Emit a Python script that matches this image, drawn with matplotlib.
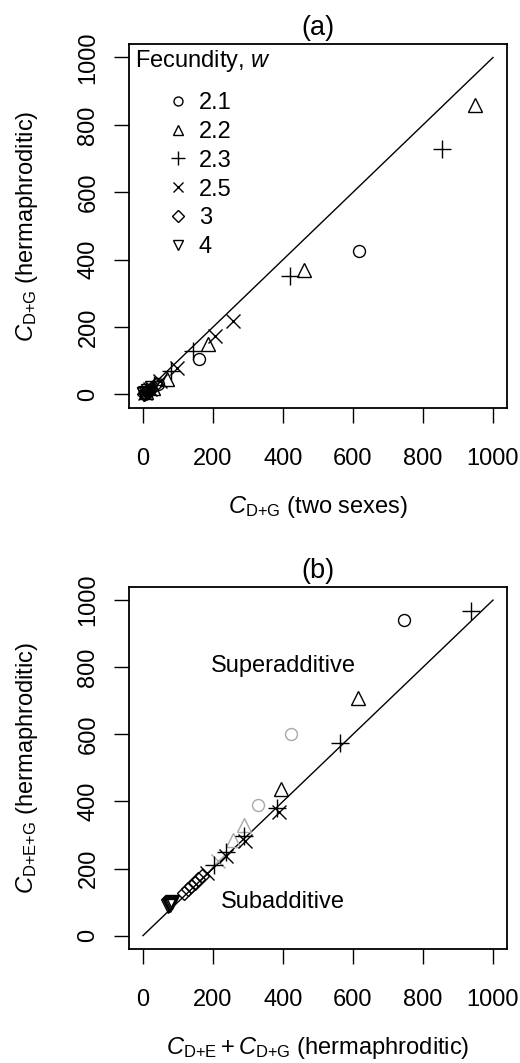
import numpy as np
import matplotlib
matplotlib.use("Agg")
import matplotlib.pyplot as plt
from matplotlib.lines import Line2D

plt.rcParams["font.family"] = ["Liberation Sans", "DejaVu Sans"]
plt.rcParams["mathtext.fontset"] = "custom"
plt.rcParams["mathtext.rm"] = "Liberation Sans"
plt.rcParams["mathtext.it"] = "Liberation Sans:italic"
plt.rcParams["mathtext.bf"] = "Liberation Sans:bold"

# fecundity levels and their R-style symbols
fecundity = ["2.1", "2.2", "2.3", "2.5", "3", "4"]
symbols = ["o", "^", "+", "x", "D", "v"]
sizes = [8.6, 10.0, 12.5, 10.0, 7.5, 10.0]

# panel (a): C_D+G two sexes (x) vs hermaphroditic (y)
a_x = {
    "2.1": [616, 161, 42, 18, 8],
    "2.2": [950, 461, 185, 68, 28, 10],
    "2.3": [854, 421, 143, 80, 32, 12],
    "2.5": [257, 207, 97, 48, 20, 7],
    "3": [36, 22, 12, 6, 3],
    "4": [26, 14, 8, 4, 2],
}
a_y = {
    "2.1": [426, 106, 30, 12, 5],
    "2.2": [860, 369, 151, 45, 20, 6],
    "2.3": [728, 353, 129, 70, 27, 9],
    "2.5": [218, 173, 79, 40, 16, 4],
    "3": [30, 16, 9, 4, 1],
    "4": [20, 10, 5, 2, 0],
}

# panel (b): C_D+E + C_D+G (x) vs C_D+E+G (y), black series
b_x = {
    "2.1": [745],
    "2.2": [613, 395],
    "2.3": [938, 564, 383, 289, 238, 202],
    "2.5": [388, 292, 238, 183],
    "3": [168, 158, 148, 138, 128, 118],
    "4": [84, 81, 78, 76, 73, 71],
}
b_y = {
    "2.1": [940],
    "2.2": [709, 436],
    "2.3": [966, 573, 379, 298, 248, 210],
    "2.5": [367, 283, 238, 188],
    "3": [178, 168, 158, 148, 138, 128],
    "4": [100, 97, 95, 92, 90, 87],
}
# panel (b), grey series
b_grey_x = {"2.1": [424, 330], "2.2": [290, 256], "2.5": [215]}
b_grey_y = {"2.1": [602, 390], "2.2": [330, 285], "2.5": [222]}

grey = "#a8a8a8"
ticks = [0, 200, 400, 600, 800, 1000]
fs = 17

fig = plt.figure(figsize=(5.2, 10.63), dpi=100)
ax_a = fig.add_axes([0.248, 0.6162, 0.727, 0.3424])
ax_b = fig.add_axes([0.248, 0.1072, 0.727, 0.3409])


def style_axes(ax, title):
    ax.set_xlim(-40, 1040)
    ax.set_ylim(-40, 1040)
    ax.set_xticks(ticks)
    ax.set_yticks(ticks)
    ax.set_xticklabels([str(t) for t in ticks], fontsize=fs)
    ax.set_yticklabels([str(t) for t in ticks], fontsize=fs, rotation=90, va="center")
    ax.tick_params(direction="out", length=10.8, width=1.0)
    ax.tick_params(axis="x", pad=18)
    ax.tick_params(axis="y", pad=10.5)
    for s in ax.spines.values():
        s.set_linewidth(1.3)
    ax.set_title(title, fontsize=19.5, pad=6.5)
    ax.plot([0, 1000], [0, 1000], color="black", lw=1.0, zorder=1)


def draw(ax, xs, ys, color):
    for lev, m, ms in zip(fecundity, symbols, sizes):
        if lev not in xs:
            continue
        ax.plot(xs[lev], ys[lev], linestyle="none", marker=m, ms=ms,
                mfc="none", mec=color, mew=1.0, zorder=3)


# ---- panel (a)
style_axes(ax_a, "(a)")
draw(ax_a, a_x, a_y, "black")
ax_a.set_xlabel(r"$C_{\mathrm{D{+}G}}$ (two sexes)", fontsize=fs)
ax_a.set_ylabel(r"$C_{\mathrm{D{+}G}}$ (hermaphroditic)", fontsize=fs)
ax_a.xaxis.set_label_coords(0.5, -0.272)
ax_a.xaxis.label.set_va("center")
ax_a.yaxis.set_label_coords(-0.27, 0.5)
ax_a.yaxis.label.set_va("center")

handles = [Line2D([], [], linestyle="none", marker=m, ms=ms * 0.75,
                  mfc="none", mec="black", mew=1.0)
           for m, ms in zip(symbols, sizes)]
ax_a.text(0.016, 0.952, r"Fecundity, $w$", transform=ax_a.transAxes,
          fontsize=fs, ha="left", va="center")
ax_a.legend(handles, fecundity, loc="upper left", bbox_to_anchor=(0.098, 0.868),
            frameon=False, fontsize=fs, handlelength=1.0, handletextpad=0.39,
            labelspacing=0.29, borderaxespad=0, borderpad=0)

# ---- panel (b)
style_axes(ax_b, "(b)")
draw(ax_b, b_grey_x, b_grey_y, grey)
draw(ax_b, b_x, b_y, "black")
ax_b.text(400, 803, "Superadditive", fontsize=fs, ha="center", va="center")
ax_b.text(400, 99, "Subadditive", fontsize=fs, ha="center", va="center")
ax_b.set_xlabel(r"$C_{\mathrm{D{+}E}} + C_{\mathrm{D{+}G}}$ (hermaphroditic)", fontsize=fs)
ax_b.set_ylabel(r"$C_{\mathrm{D{+}E{+}G}}$ (hermaphroditic)", fontsize=fs)
ax_b.xaxis.set_label_coords(0.5, -0.272)
ax_b.xaxis.label.set_va("center")
ax_b.yaxis.set_label_coords(-0.27, 0.5)
ax_b.yaxis.label.set_va("center")

fig.savefig("out.png", dpi=100)
